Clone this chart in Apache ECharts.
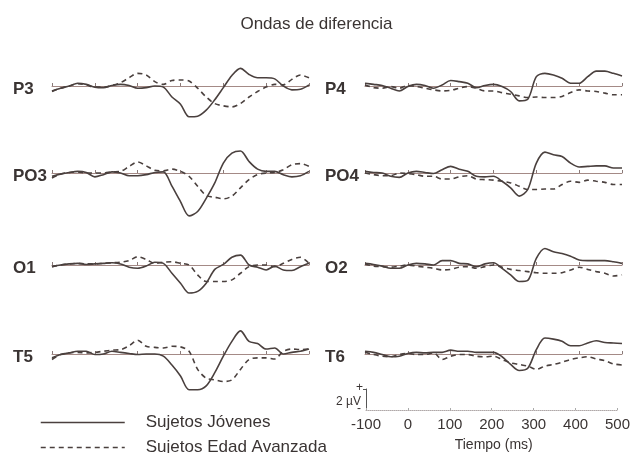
<!DOCTYPE html>
<html><head><meta charset="utf-8">
<script src="https://cdn.jsdelivr.net/npm/echarts@6/dist/echarts.min.js"></script>
<style>html,body{margin:0;padding:0;background:#fff}#c{width:633px;height:453px}</style>
</head><body><div id="c"></div>
<script>
const times = [-100,-80,-60,-40,-20,0,20,40,60,80,100,120,140,160,180,200,220,240,260,280,300,320,340,360,380,400,420,440,460,480,500];
const timeTicks = [-100,0,100,200,300,400,500];
const panelNames = ['P3','PO3','O1','T5','P4','PO4','O2','T6'];
const legendNames = ['Sujetos Jóvenes','Sujetos Edad Avanzada'];

const p3Young  = [-0.45,-0.2,0,0.25,0.15,-0.1,-0.15,0.05,0.15,0.05,-0.2,-0.15,0,-0.1,-1.0,-1.65,-2.8,-2.75,-2.2,-1.25,-0.15,0.95,1.6,1.05,0.75,0.75,0.65,0,-0.35,-0.3,0.1];
const p3Old    = [-0.5,-0.2,0,0.2,0.1,-0.1,-0.1,0.05,0.3,0.75,1.15,1.0,0.4,0.15,0.5,0.55,0.45,-0.2,-1.0,-1.6,-1.8,-1.9,-1.6,-1.0,-0.5,-0.1,0.15,0.1,0.6,1.0,0.75];
const po3Young = [-0.3,-0.1,0.05,0.15,0.05,-0.35,-0.15,0.1,0,-0.25,-0.25,-0.15,0.05,0.1,-1.2,-2.6,-3.9,-3.5,-2.3,-0.9,0.9,1.8,2.0,1.05,0.35,0.15,0.15,-0.15,-0.35,-0.25,0.15];
const po3Old   = [-0.45,-0.1,0.05,0.1,0,0,0,0.1,0.15,0.6,1.0,0.65,0.25,0.2,0.35,0.15,-0.3,-1.2,-2.05,-2.2,-2.35,-2.1,-1.35,-0.6,-0.15,0,0.05,0.3,0.75,0.85,0.6];
const o1Young  = [-0.15,0,0.1,0.15,0.05,0.1,0.15,0.2,0.1,-0.2,-0.3,-0.1,0.25,0.15,-0.75,-1.65,-2.55,-2.4,-1.65,-0.4,0.05,0.7,0.9,0,-0.2,-0.45,-0.1,-0.45,-0.5,-0.15,0.15];
const o1Old    = [-0.15,0,0.1,0.15,0.1,0.1,0.15,0.2,0.25,0.4,0.75,0.5,0.15,0.25,0.3,0.15,0,-0.9,-1.5,-1.5,-1.5,-1.35,-0.75,-0.15,0,0,-0.15,0.15,0.5,0.7,0.15];
const t5Young  = [-0.35,-0.05,0.1,0.25,0.25,-0.05,0,0.25,0.15,0.05,-0.05,0,0,-0.2,-1.0,-2.0,-3.25,-3.25,-2.9,-1.7,-0.2,1.15,2.1,1.15,0.95,0.45,0.55,0,0.15,0.25,0.45];
const t5Old    = [-0.5,-0.05,0.1,0.15,0.1,0.15,0.25,0.35,0.4,0.75,1.25,0.7,0.6,0.55,0.7,0.65,0.25,-1.4,-2.2,-2.35,-2.5,-2.35,-1.4,-0.5,-0.35,-0.35,-0.45,0.25,0.45,0.4,0.45];
const p4Young  = [0.25,0.15,0.05,-0.2,-0.45,-0.05,0.15,0.05,-0.2,0.1,0.5,0.4,0.25,-0.15,0.05,0.15,-0.05,-0.5,-1.35,-1.2,0.85,1.15,1.0,0.7,0.25,0.25,0.85,1.35,1.35,1.15,0.9];
const p4Old    = [0.1,-0.15,-0.2,-0.05,-0.2,0.05,-0.05,-0.2,-0.35,-0.45,-0.4,-0.2,-0.05,-0.2,-0.45,-0.45,-0.6,-0.75,-0.9,-1.05,-1.0,-1.05,-1.05,-0.95,-0.6,-0.35,-0.45,-0.5,-0.65,-0.8,-0.8];
const po4Young = [0.15,0.05,0,-0.3,-0.4,0,0.15,0.05,-0.05,0.3,0.6,0.35,0.15,-0.3,-0.35,-0.3,-0.75,-1.35,-2.1,-1.5,0.9,1.9,1.65,1.5,0.9,0.55,0.6,0.65,0.65,0.45,0.45];
const po4Old   = [0,-0.15,-0.25,-0.25,0,-0.05,-0.15,-0.3,-0.3,-0.55,-0.55,-0.35,-0.25,-0.55,-0.6,-0.65,-0.75,-0.9,-1.2,-1.5,-1.5,-1.45,-1.45,-1.05,-0.75,-0.85,-0.65,-0.75,-0.85,-1.05,-1.05];
const o2Young  = [0.15,0.05,-0.1,-0.3,-0.3,0,0.15,0.1,0,0.4,0.4,0.15,0.1,-0.15,0.1,0.2,-0.3,-0.9,-1.5,-1.4,0.6,1.5,1.2,1.05,0.8,0.45,0.4,0.4,0.4,0.3,0.15];
const o2Old    = [0.1,-0.1,-0.15,-0.2,-0.1,0,-0.1,-0.2,-0.3,-0.45,-0.4,-0.2,-0.15,-0.3,-0.15,0,-0.2,-0.4,-0.5,-0.6,-0.7,-0.75,-0.75,-0.7,-0.45,-0.2,-0.4,-0.6,-0.75,-1.0,-0.9];
const t6Young  = [0.25,0.15,-0.05,-0.25,-0.2,0.05,0.15,0.1,0.15,0.15,0.35,0.25,0.25,0.15,0.15,0.15,-0.25,-0.95,-1.5,-1.3,0.4,1.45,1.35,1.15,0.75,0.75,1.0,1.2,1.05,1.0,0.95];
const t6Old    = [0.15,-0.05,-0.2,-0.25,-0.05,0.05,-0.05,-0.05,0.1,-0.5,-0.2,-0.05,-0.05,-0.2,-0.25,-0.2,-0.5,-0.8,-0.95,-1.1,-1.4,-1.1,-0.95,-0.75,-0.5,-0.35,-0.25,-0.45,-0.6,-0.9,-1.0];

const youngSets = [p3Young,po3Young,o1Young,t5Young,p4Young,po4Young,o2Young,t6Young];
const oldSets   = [p3Old,po3Old,o1Old,t5Old,p4Old,po4Old,o2Old,t6Old];

// layout
const baselines = [86,173,265,354,86,173,265,354];
const pxPerUv = 11, yMin = -5, yMax = 3;
const colLeft = [52,52,52,52,365,365,365,365];
const colWidth = 257;
const labelX = [13,13,13,13,325,325,325,325];
const lineColor = '#4a403e';
const baseColor = '#a48a86';
const font = "'Liberation Sans', Arial, sans-serif";

const grids = [], xAxes = [], yAxes = [], series = [], graphics = [];
for (let i = 0; i < 8; i++) {
  grids.push({left: colLeft[i], width: colWidth, top: baselines[i] - yMax*pxPerUv, height: (yMax - yMin)*pxPerUv, containLabel:false});
  xAxes.push({type:'value', gridIndex:i, min:-100, max:500, interval:100,
    axisLine:{show:true, onZero:true, lineStyle:{color:baseColor, width:1}},
    axisTick:{show:true, inside:true, length:3, lineStyle:{color:'#8a7a78', width:1}},
    axisLabel:{show:false}, splitLine:{show:false}});
  yAxes.push({type:'value', gridIndex:i, min:yMin, max:yMax, show:false, splitLine:{show:false}});
  series.push({name:legendNames[0], type:'line', xAxisIndex:i, yAxisIndex:i, symbol:'none', showSymbol:false, smooth:0.3,
    lineStyle:{color:lineColor, width:1.6, type:'solid'}, itemStyle:{color:lineColor},
    data: times.map((t,k)=>[t, youngSets[i][k]]), z:3});
  series.push({name:legendNames[1], type:'line', xAxisIndex:i, yAxisIndex:i, symbol:'none', showSymbol:false, smooth:0.3,
    lineStyle:{color:lineColor, width:1.6, type:[5,4]}, itemStyle:{color:lineColor},
    data: times.map((t,k)=>[t, oldSets[i][k]]), z:2});
  graphics.push({type:'text', left: labelX[i], top: baselines[i] - 5, style:{text: panelNames[i], font: "bold 17px " + font, fill:'#3a3433'}});
}
// time scale axis (bottom right)
grids.push({left:366, width:254, top:389, height:22});
xAxes.push({type:'value', gridIndex:8, min:-100, max:500, interval:100, data: timeTicks,
  axisLine:{show:true, onZero:false, lineStyle:{color:'#b0a8a8', width:1, type:'dotted'}},
  axisTick:{show:true, inside:true, length:2, lineStyle:{color:'#aaa'}},
  axisLabel:{show:true, color:'#3a3433', fontSize:15, fontFamily:font, margin:7},
  splitLine:{show:false},
  name:'Tiempo (ms)', nameLocation:'middle', nameGap:28, nameTextStyle:{color:'#3a3433', fontSize:14, fontFamily:font, padding:[0,0,0,4]}});
yAxes.push({type:'value', gridIndex:8, min:0, max:2, interval:2,
  axisLine:{show:true, onZero:false, lineStyle:{color:'#555', width:1}},
  axisTick:{show:true, customValues:[2], length:3, lineStyle:{color:'#555'}},
  axisLabel:{show:false}, splitLine:{show:false}});
graphics.push({type:'text', left:356, top:382, style:{text:'+', font:"12px " + font, fill:'#3a3433'}});
graphics.push({type:'text', left:336, top:396, style:{text:'2 µV', font:"12px " + font, fill:'#3a3433'}});
graphics.push({type:'text', left:357, top:403, style:{text:'-', font:"12px " + font, fill:'#3a3433'}});

const chart = echarts.init(document.getElementById('c'), null, {renderer:'canvas'});
chart.setOption({
  animation:false,
  backgroundColor:'#ffffff',
  title:{text:'Ondas de diferencia', left:'center', top:11, textStyle:{fontSize:17, fontWeight:'normal', color:'#3a3433', fontFamily:font}},
  legend:{data:legendNames, orient:'vertical', left:40, top:414, height:80, padding:0, itemWidth:84, itemHeight:14, itemGap:8,
    itemStyle:{opacity:0}, lineStyle:{width:1.5},
    textStyle:{fontSize:17, color:'#3a3433', fontFamily:font, padding:[0,0,0,16]}, selectedMode:false},
  grid:grids, xAxis:xAxes, yAxis:yAxes, series:series, graphic:graphics
});
</script></body></html>
